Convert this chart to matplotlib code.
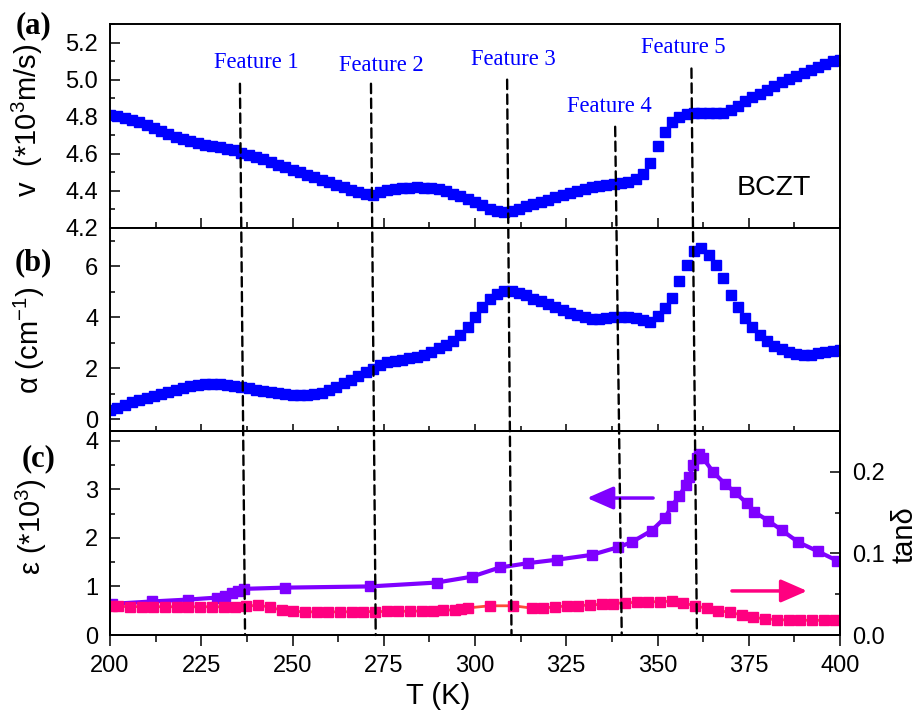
import matplotlib
matplotlib.use("Agg")
import matplotlib.pyplot as plt
from matplotlib.patches import ConnectionPatch
from matplotlib.ticker import MultipleLocator

plt.rcParams['font.family'] = ['Liberation Sans', 'DejaVu Sans']
plt.rcParams['mathtext.fontset'] = 'custom'
plt.rcParams['mathtext.rm'] = 'Liberation Sans'
plt.rcParams['mathtext.it'] = 'Liberation Sans:italic'

# ---------------- data ----------------
T_ab = [200, 202, 204, 206, 208, 210, 212, 214, 216, 218, 220, 222, 224, 226, 228,
        230, 232, 234, 236, 238, 240, 242, 244, 246, 248, 250, 252, 254, 256, 258,
        260, 262, 264, 266, 268, 270, 272, 274, 276, 278, 280, 282, 284, 286, 288,
        290, 292, 294, 296, 298, 300, 302, 304, 306, 308, 310, 312, 314, 316, 318,
        320, 322, 324, 326, 328, 330, 332, 334, 336, 338, 340, 342, 344, 346, 348,
        350, 352, 354, 356, 358, 360, 362, 364, 366, 368, 370, 372, 374, 376, 378,
        380, 382, 384, 386, 388, 390, 392, 394, 396, 398, 400]

velocity = [4.810, 4.805, 4.795, 4.785, 4.770, 4.755, 4.740, 4.722, 4.705, 4.690,
            4.678, 4.668, 4.658, 4.650, 4.643, 4.636, 4.628, 4.618, 4.605, 4.594,
            4.583, 4.570, 4.556, 4.542, 4.528, 4.514, 4.500, 4.487, 4.474, 4.461,
            4.448, 4.434, 4.420, 4.406, 4.394, 4.384, 4.376, 4.396, 4.406, 4.412,
            4.416, 4.418, 4.419, 4.418, 4.414, 4.408, 4.398, 4.386, 4.372, 4.356,
            4.340, 4.322, 4.305, 4.292, 4.288, 4.292, 4.303, 4.316, 4.329, 4.341,
            4.353, 4.366, 4.378, 4.390, 4.400, 4.410, 4.419, 4.426, 4.432, 4.437,
            4.441, 4.446, 4.462, 4.490, 4.550, 4.640, 4.720, 4.770, 4.800, 4.815,
            4.818, 4.818, 4.818, 4.818, 4.822, 4.835, 4.860, 4.885, 4.905, 4.925,
            4.945, 4.965, 4.985, 5.003, 5.020, 5.036, 5.052, 5.068, 5.085, 5.098,
            5.108]

alpha = [0.35, 0.45, 0.55, 0.65, 0.74, 0.83, 0.91, 0.99, 1.07, 1.15,
         1.22, 1.28, 1.33, 1.37, 1.38, 1.37, 1.34, 1.30, 1.25, 1.20,
         1.15, 1.10, 1.05, 1.01, 0.98, 0.96, 0.94, 0.94, 0.97, 1.04,
         1.15, 1.27, 1.40, 1.54, 1.68, 1.83, 1.96, 2.12, 2.22, 2.28,
         2.33, 2.38, 2.43, 2.52, 2.65, 2.78, 2.92, 3.08, 3.28, 3.60,
         4.00, 4.40, 4.72, 4.92, 5.02, 5.03, 4.96, 4.85, 4.73, 4.62,
         4.50, 4.40, 4.30, 4.18, 4.08, 3.99, 3.94, 3.93, 3.96, 3.99,
         4.00, 3.99, 3.95, 3.88, 3.82, 4.05, 4.35, 4.75, 5.40, 6.05,
         6.60, 6.72, 6.45, 6.05, 5.55, 4.88, 4.38, 3.95, 3.62, 3.28,
         3.05, 2.87, 2.73, 2.63, 2.56, 2.51, 2.52, 2.58, 2.63, 2.66,
         2.70]

T_eps = [200.5, 211.4, 221.5, 229.2, 231.5, 233.3, 235.1, 236.7, 247.9, 271.2,
         289.5, 299.1, 306.8, 314.6, 322.4, 332.0, 339.3, 342.9, 348.4, 352.0,
         353.9, 356.0, 357.8, 358.7, 359.8, 360.7, 361.4, 362.5, 365.3, 368.5,
         371.2, 374.4, 376.4, 380.4, 384.0, 388.6, 394.0, 399.2]
epsilon = [0.64, 0.69, 0.73, 0.77, 0.81, 0.86, 0.91, 0.95, 0.975, 1.00,
           1.08, 1.20, 1.39, 1.48, 1.55, 1.65, 1.81, 1.91, 2.15, 2.41,
           2.65, 2.87, 3.09, 3.26, 3.50, 3.64, 3.73, 3.64, 3.35, 3.11,
           2.94, 2.72, 2.54, 2.35, 2.16, 1.91, 1.72, 1.53]

T_tan = [200.5, 202.3, 205.5, 208.7, 211.9, 215.1, 218.3, 221.5, 224.7, 227.9,
         231.1, 234.3, 237.3, 240.6, 243.8, 247.0, 250.2, 253.4, 256.6, 259.8,
         263.0, 266.2, 269.4, 272.6, 275.8, 279.0, 282.2, 285.4, 288.6, 291.3,
         294.5, 296.3, 298.1, 304.1, 310.5, 315.5, 318.7, 321.9, 325.1, 328.3,
         331.5, 334.7, 337.9, 341.1, 344.3, 347.5, 350.7, 353.9, 357.1, 360.3,
         363.5, 366.7, 369.9, 373.1, 376.3, 379.5, 382.7, 385.9, 389.1, 392.3,
         395.5, 398.7]
tan_delta = [0.0352, 0.0350, 0.0348, 0.0347, 0.0347, 0.0346, 0.0346, 0.0346, 0.0346, 0.0346,
             0.0346, 0.0347, 0.0350, 0.0368, 0.0340, 0.0305, 0.0290, 0.0285, 0.0283, 0.0283,
             0.0284, 0.0285, 0.0286, 0.0287, 0.0288, 0.0290, 0.0292, 0.0294, 0.0297, 0.0302,
             0.0310, 0.0320, 0.0332, 0.0358, 0.0358, 0.0330, 0.0330, 0.0345, 0.0355, 0.0360,
             0.0368, 0.0376, 0.0385, 0.0395, 0.0400, 0.0405, 0.0410, 0.0412, 0.0390, 0.0360,
             0.0325, 0.0298, 0.0278, 0.0245, 0.0216, 0.0198, 0.0189, 0.0184, 0.0182, 0.0180,
             0.0180, 0.0180]

feature_labels = ["Feature 1", "Feature 2", "Feature 3", "Feature 4", "Feature 5"]
feature_T_top = [235.6, 271.5, 308.8, 338.4, 359.3]
feature_T_bot = [237.0, 272.8, 310.0, 340.2, 360.8]
feature_line_top = [4.978, 4.978, 5.000, 4.746, 5.060]
feature_text_T = [240.0, 274.4, 310.5, 336.7, 357.0]
feature_text_v = [5.065, 5.045, 5.081, 4.826, 5.144]

# ---------------- style ----------------
BLUE = '#0000FF'
PURPLE = '#7F00FF'
PINK = '#FF0080'
PINKLINE = '#FF4A3A'
TICK_FS = 17
LABEL_FS = 21
SERIF = ['Liberation Serif', 'DejaVu Serif']

fig = plt.figure(figsize=(9.18, 7.12), dpi=100)
L, W = 110 / 918, 730 / 918
axA = fig.add_axes([L, 1 - 228 / 712, W, 204 / 712])
axB = fig.add_axes([L, 1 - 431 / 712, W, 203 / 712])
axC = fig.add_axes([L, 1 - 635 / 712, W, 204 / 712])
axD = axC.twinx()

for ax in (axA, axB, axC, axD):
    for s in ax.spines.values():
        s.set_linewidth(1.4)
    ax.set_xlim(200, 400)
    ax.xaxis.set_major_locator(MultipleLocator(25))
    ax.xaxis.set_minor_locator(MultipleLocator(12.5))

# panel a
axA.plot(T_ab, velocity, ls='none', marker='s', ms=7.6, color=BLUE, mec=BLUE)
axA.set_ylim(4.2, 5.3)
axA.yaxis.set_minor_locator(MultipleLocator(0.1))
axA.set_yticks([4.2, 4.4, 4.6, 4.8, 5.0, 5.2])
axA.set_yticklabels(['4.2', '4.4', '4.6', '4.8', '5.0', '5.2'])

# panel b
axB.plot(T_ab, alpha, ls='none', marker='s', ms=7.6, color=BLUE, mec=BLUE)
axB.set_ylim(-0.47, 7.5)
axB.set_yticks([0, 2, 4, 6])
axB.yaxis.set_minor_locator(MultipleLocator(1))

# panel c
axC.plot(T_eps, epsilon, ls='-', lw=3.0, marker='s', ms=6.8, color=PURPLE, mec=PURPLE)
axC.set_ylim(0, 4.2)
axC.set_yticks([0, 1, 2, 3, 4])
axC.yaxis.set_minor_locator(MultipleLocator(0.5))
axD.plot(T_tan, tan_delta, ls='-', lw=2.0, color=PINKLINE, marker='s', ms=6.8,
         mfc=PINK, mec=PINK)
axD.set_ylim(0, 0.25)
axD.set_yticks([0.0, 0.1, 0.2])
axD.set_yticklabels(['0.0', '0.1', '0.2'])
axD.yaxis.set_minor_locator(MultipleLocator(0.05))

# ticks
for ax in (axA, axB, axC):
    ax.tick_params(axis='y', which='major', direction='in', length=7.5, width=1.1,
                   left=True, right=False, labelsize=TICK_FS, pad=8.5)
    ax.tick_params(axis='y', which='minor', direction='in', length=3.8, width=1.1,
                   left=True, right=False)
axA.tick_params(axis='x', which='major', direction='in', length=7.5, width=1.1,
                top=False, labelbottom=False)
axA.tick_params(axis='x', which='minor', direction='in', length=4.3, width=1.1, top=False)
axB.tick_params(axis='x', which='major', direction='inout', length=10, width=1.1,
                top=False, labelbottom=False)
axB.tick_params(axis='x', which='minor', direction='inout', length=7, width=1.1, top=False)
axC.tick_params(axis='x', which='major', direction='out', length=8, width=1.1,
                top=False, labelsize=TICK_FS, pad=6.5)
axC.tick_params(axis='x', which='minor', direction='out', length=5, width=1.1, top=False)
axD.tick_params(axis='y', which='major', direction='in', length=7.5, width=1.1,
                labelsize=TICK_FS, pad=8.5)
axD.tick_params(axis='y', which='minor', direction='in', length=3.8, width=1.1)
axC.set_xticks([200, 225, 250, 275, 300, 325, 350, 375, 400])

# axis labels
axA.set_ylabel('v  (*10$^{3}$m/s)', fontsize=LABEL_FS, va='center')
axA.yaxis.set_label_coords(-0.1137, 0.53)
axB.set_ylabel('α (cm$^{-1}$)', fontsize=LABEL_FS, va='center')
axB.yaxis.set_label_coords(-0.110, 0.448)
axC.set_ylabel('ε (*10$^{3}$)', fontsize=LABEL_FS, va='center')
axC.yaxis.set_label_coords(-0.107, 0.53)
axD.set_ylabel('tanδ', fontsize=LABEL_FS, va='center')
axD.yaxis.set_label_coords(1.089, 0.49)
axC.set_xlabel('T (K)', fontsize=LABEL_FS, va='center')
axC.xaxis.set_label_coords(0.449, -0.30)

# panel letters
fig.text(33.5 / 918, 1 - 26 / 712, '(a)', fontsize=22, fontweight='bold', family=SERIF,
         ha='center', va='center')
fig.text(33.5 / 918, 1 - 263 / 712, '(b)', fontsize=22, fontweight='bold', family=SERIF,
         ha='center', va='center')
fig.text(38.5 / 918, 1 - 459 / 712, '(c)', fontsize=22, fontweight='bold', family=SERIF,
         ha='center', va='center')

axA.text(0.91, 0.196, 'BCZT', transform=axA.transAxes, fontsize=20.5,
         ha='center', va='center')

# features
for lab, xt, xb, yt, tx, ty in zip(feature_labels, feature_T_top, feature_T_bot,
                                   feature_line_top, feature_text_T, feature_text_v):
    axA.text(tx, ty, lab, color=BLUE, fontsize=16.3, family=SERIF, ha='center',
             va='baseline')
    con = ConnectionPatch(xyA=(xt, yt), coordsA=axA.transData, xyB=(xb, 0.0),
                          coordsB=axC.transData, color='black', lw=1.7,
                          linestyle=(0, (4.0, 2.3)), zorder=10)
    fig.add_artist(con)

# arrows
axC.annotate('', xy=(330.7, 2.82), xytext=(348.8, 2.82),
             arrowprops=dict(arrowstyle='-|>,head_length=0.8,head_width=0.35',
                             color=PURPLE, lw=2.5, mutation_scale=20,
                             shrinkA=0, shrinkB=0))
axC.annotate('', xy=(391.0, 0.907), xytext=(370.4, 0.907),
             arrowprops=dict(arrowstyle='-|>,head_length=0.8,head_width=0.35',
                             color=PINK, lw=2.5, mutation_scale=20,
                             shrinkA=0, shrinkB=0))

fig.savefig('out.png', dpi=100)
